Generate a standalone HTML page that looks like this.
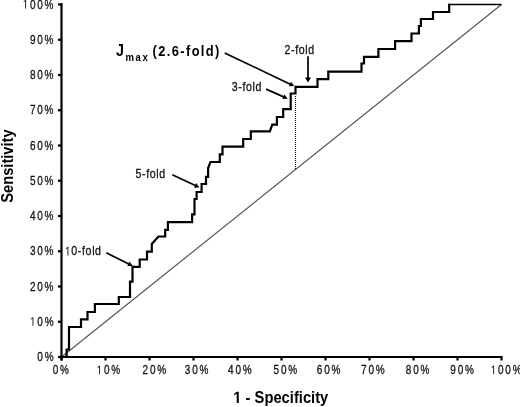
<!DOCTYPE html>
<html><head><meta charset="utf-8"><style>
html,body{margin:0;padding:0;background:#fff;}
svg{display:block;will-change:transform;}
text{font-family:"Liberation Sans",sans-serif;}
.h1{fill:none;stroke:none;}
</style></head><body>
<svg width="520" height="407" viewBox="0 0 520 407">
<rect width="520" height="407" fill="#fff"/>
<line x1="61.5" y1="357" x2="501.5" y2="4.5" stroke="#555" stroke-width="1.2"/>
<line x1="295.5" y1="96" x2="295.5" y2="169" stroke="#000" stroke-width="1.1" stroke-dasharray="1 1"/>
<path d="M61.5,357 H66.6 V349.5 H69 V327 H81 V319.3 H87.5 V312 H94.9 V304 H118.8 V297 H130 V281.7 H132.5 V266.9
H139.7 V259.5 H147 V251.6 H151.8 V244 L158.5,236.5 H165.2 V229.8 H167.9 V222.1 H192.1 V214.3 H194.5 V199 H196.6 V192
H201.6 V184 H206 V176.9 H208.1 V168.3 L210.4,162 H219.8 V154.4 H222.5 V146.6 H243.2 V139 H250.8 V131.4 H269.9 L272.2,124.7
H276.9 V117 H283.2 V109.1 H290.7 V93.5 H295.5 V86.9 H317.5 V79.1 H328.3 V71.6 H361.5 V63.5 H364 V56.8 H378.4 V49
H395.1 V41.1 H411.5 V33.5 H418.9 V26 H420.9 V19 H433 V12 H449.2 V3.8" fill="none" stroke="#000" stroke-width="2.2" stroke-linejoin="miter"/>
<line x1="448.1" y1="4.5" x2="501.5" y2="4.5" stroke="#000" stroke-width="1.6"/>
<g stroke="#000" stroke-width="2.2" fill="none">
<line x1="61.5" y1="3" x2="61.5" y2="360.5"/>
<line x1="58" y1="357" x2="502.6" y2="357"/>
<line x1="58" y1="357.00" x2="61.5" y2="357.00"/><line x1="61.50" y1="357" x2="61.50" y2="360.5"/><line x1="58" y1="321.75" x2="61.5" y2="321.75"/><line x1="105.50" y1="357" x2="105.50" y2="360.5"/><line x1="58" y1="286.50" x2="61.5" y2="286.50"/><line x1="149.50" y1="357" x2="149.50" y2="360.5"/><line x1="58" y1="251.25" x2="61.5" y2="251.25"/><line x1="193.50" y1="357" x2="193.50" y2="360.5"/><line x1="58" y1="216.00" x2="61.5" y2="216.00"/><line x1="237.50" y1="357" x2="237.50" y2="360.5"/><line x1="58" y1="180.75" x2="61.5" y2="180.75"/><line x1="281.50" y1="357" x2="281.50" y2="360.5"/><line x1="58" y1="145.50" x2="61.5" y2="145.50"/><line x1="325.50" y1="357" x2="325.50" y2="360.5"/><line x1="58" y1="110.25" x2="61.5" y2="110.25"/><line x1="369.50" y1="357" x2="369.50" y2="360.5"/><line x1="58" y1="75.00" x2="61.5" y2="75.00"/><line x1="413.50" y1="357" x2="413.50" y2="360.5"/><line x1="58" y1="39.75" x2="61.5" y2="39.75"/><line x1="457.50" y1="357" x2="457.50" y2="360.5"/><line x1="58" y1="4.50" x2="61.5" y2="4.50"/><line x1="501.50" y1="357" x2="501.50" y2="360.5"/>
</g>
<g font-size="12.5" fill="#111" letter-spacing="2.2" stroke="#111" stroke-width="0.3">
<text transform="translate(55.26,361.10) scale(0.8,1)" text-anchor="end">0%</text><text transform="translate(61.75,374.30) scale(0.8,1)" text-anchor="middle">0%</text><text id="y1" transform="translate(55.26,325.85) scale(0.8,1)" text-anchor="end"><tspan class="h1">1</tspan>0%</text><text id="x1" transform="translate(109.25,374.30) scale(0.8,1)" text-anchor="middle"><tspan class="h1">1</tspan>0%</text><text transform="translate(55.26,290.60) scale(0.8,1)" text-anchor="end">20%</text><text transform="translate(155.25,374.30) scale(0.8,1)" text-anchor="middle">20%</text><text transform="translate(55.26,255.35) scale(0.8,1)" text-anchor="end">30%</text><text transform="translate(197.50,374.30) scale(0.8,1)" text-anchor="middle">30%</text><text transform="translate(55.26,220.10) scale(0.8,1)" text-anchor="end">40%</text><text transform="translate(240.75,374.30) scale(0.8,1)" text-anchor="middle">40%</text><text transform="translate(55.26,184.85) scale(0.8,1)" text-anchor="end">50%</text><text transform="translate(286.25,374.30) scale(0.8,1)" text-anchor="middle">50%</text><text transform="translate(55.26,149.60) scale(0.8,1)" text-anchor="end">60%</text><text transform="translate(329.50,374.30) scale(0.8,1)" text-anchor="middle">60%</text><text transform="translate(55.26,114.35) scale(0.8,1)" text-anchor="end">70%</text><text transform="translate(373.75,374.30) scale(0.8,1)" text-anchor="middle">70%</text><text transform="translate(55.26,79.10) scale(0.8,1)" text-anchor="end">80%</text><text transform="translate(418.50,374.30) scale(0.8,1)" text-anchor="middle">80%</text><text transform="translate(55.26,43.85) scale(0.8,1)" text-anchor="end">90%</text><text transform="translate(463.00,374.30) scale(0.8,1)" text-anchor="middle">90%</text><text id="y10" transform="translate(55.26,8.60) scale(0.8,1)" text-anchor="end"><tspan class="h1">1</tspan>00%</text><text id="x10" transform="translate(507.00,374.30) scale(0.8,1)" text-anchor="middle"><tspan class="h1">1</tspan>00%</text>
</g>
<g font-size="12.3" fill="#111" letter-spacing="0.75" stroke="#111" stroke-width="0.3">
<text transform="translate(284.50,53.70) scale(0.86,1)">2-fold</text><text transform="translate(231.70,91.40) scale(0.86,1)">3-fold</text><text transform="translate(135.50,177.60) scale(0.86,1)">5-fold</text><text id="f10" transform="translate(64.80,255.40) scale(0.86,1)"><tspan class="h1">1</tspan>0-fold</text>
</g>
<text id="spec" x="233.3" y="403" font-size="16.4" font-weight="bold" textLength="95" lengthAdjust="spacingAndGlyphs"><tspan class="h1">1</tspan> - Specificity</text>
<path transform=" translate(233.300,403.000) scale(0.00720,-0.00801)" d="M478,0 L478,1170 L140,959 L140,1180 L493,1409 L759,1409 L759,0 Z" fill="#000"/><path transform="translate(55.26,325.85) scale(0.8,1) translate(-31.577,0.000) scale(0.00610,-0.00610)" d="M515,0 L515,1237 L197,1010 L197,1180 L530,1409 L696,1409 L696,0 Z" fill="#111" stroke="#111" stroke-width="0.3"/><path transform="translate(109.25,374.30) scale(0.8,1) translate(-15.788,0.000) scale(0.00610,-0.00610)" d="M515,0 L515,1237 L197,1010 L197,1180 L530,1409 L696,1409 L696,0 Z" fill="#111" stroke="#111" stroke-width="0.3"/><path transform="translate(55.26,8.60) scale(0.8,1) translate(-40.722,0.000) scale(0.00610,-0.00610)" d="M515,0 L515,1237 L197,1010 L197,1180 L530,1409 L696,1409 L696,0 Z" fill="#111" stroke="#111" stroke-width="0.3"/><path transform="translate(507.00,374.30) scale(0.8,1) translate(-20.361,0.000) scale(0.00610,-0.00610)" d="M515,0 L515,1237 L197,1010 L197,1180 L530,1409 L696,1409 L696,0 Z" fill="#111" stroke="#111" stroke-width="0.3"/><path transform="translate(64.80,255.40) scale(0.86,1) translate(0.000,0.000) scale(0.00601,-0.00601)" d="M515,0 L515,1237 L197,1010 L197,1180 L530,1409 L696,1409 L696,0 Z" fill="#111" stroke="#111" stroke-width="0.3"/>
<text transform="translate(13.1,202.8) rotate(-90)" x="0" y="0" font-size="16.4" font-weight="bold" textLength="73.5" lengthAdjust="spacingAndGlyphs">Sensitivity</text>
<g font-weight="bold" fill="#000">
<text transform="translate(115.9,56.4) scale(0.83,1)" font-size="17.2">J</text>
<text transform="translate(125.5,60.8) scale(0.83,1)" font-size="11.5" letter-spacing="1.9">max</text>
<text transform="translate(152.6,55.7) scale(0.86,1)" font-size="15" letter-spacing="1.6">(2.6-fold)</text>
</g>
<g>
<line x1="224.7" y1="53" x2="291.32" y2="84.68" stroke="#000" stroke-width="1.7"/><polygon points="294.3,86.1 288.89,86.30 291.04,81.78" fill="#000"/><line x1="308" y1="56.3" x2="308.00" y2="78.90" stroke="#000" stroke-width="1.7"/><polygon points="308,82.6 305.00,77.40 311.00,77.40" fill="#000"/><line x1="266.1" y1="89.1" x2="284.78" y2="97.36" stroke="#000" stroke-width="1.7"/><polygon points="287.8,98.7 282.40,99.04 284.42,94.47" fill="#000"/><line x1="172.3" y1="174.8" x2="196.41" y2="186.01" stroke="#000" stroke-width="1.7"/><polygon points="199.4,187.4 193.99,187.64 196.10,183.11" fill="#000"/><line x1="106.3" y1="252.8" x2="129.75" y2="264.52" stroke="#000" stroke-width="1.7"/><polygon points="132.7,266.0 127.29,266.09 129.52,261.62" fill="#000"/>
</g>
</svg>
</body></html>
